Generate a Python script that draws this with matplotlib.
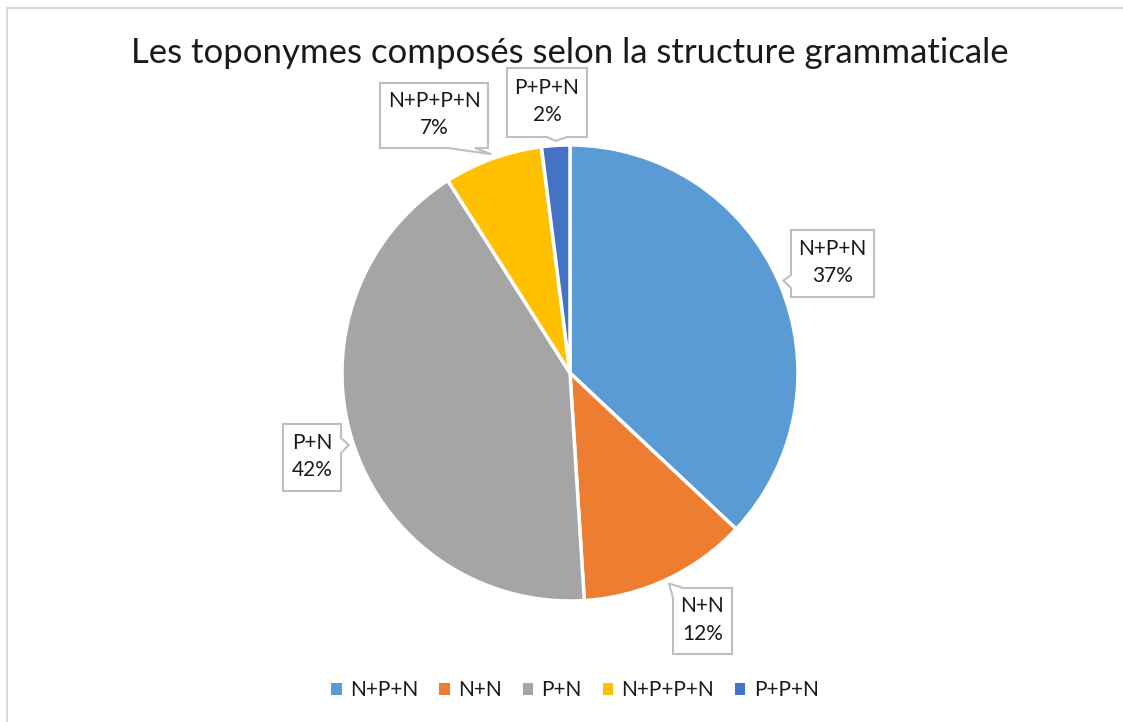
import numpy as np
import matplotlib.pyplot as plt
from matplotlib.patches import Polygon, Patch

plt.rcParams['font.family'] = ['Lato', 'DejaVu Sans']

title = 'Les toponymes composés selon la structure grammaticale'
labels = ['N+P+N', 'N+N', 'P+N', 'N+P+P+N', 'P+P+N']
values = [37, 12, 42, 7, 2]
colors = ['#5B9BD5', '#ED7D31', '#A5A5A5', '#FFC000', '#4472C4']

W, H = 1123, 722
fig = plt.figure(figsize=(W / 100, H / 100), dpi=100)
ax = fig.add_axes([0, 0, 1, 1])

# pie centre / radius in pixels (y up)
cx, cy, r = 570, H - 373, 228
wedges, _ = ax.pie(values, colors=colors, startangle=90, counterclock=False,
                   center=(cx, cy), radius=r,
                   wedgeprops=dict(edgecolor='white', linewidth=2.5))
ax.set_xlim(0, W)
ax.set_ylim(0, H)
ax.set_aspect('auto')
ax.axis('off')

# chart border (only top / left visible in the crop)
ax.plot([6.5, 6.5, W], [0, H - 7.5, H - 7.5], color='#D9D9D9', lw=1.5)

fig.text(570 / W, 1 - 53 / H, title, ha='center', va='center', fontsize=25,
         color='#1a1a1a')

# callout boxes: (left, top, right, bottom) in screen pixels, side of the notch
boxes = [(791, 230, 874, 297, 'left'),
         (673, 588, 732, 654, 'topleft'),
         (283, 424, 341, 491, 'right'),
         (380, 83, 488, 148, 'bottomright'),
         (507, 68, 587, 137, 'bottom')]

for w, lab, val, (x0, y0, x1, y1, side) in zip(wedges, labels, values, boxes):
    mid = np.deg2rad((w.theta1 + w.theta2) / 2)
    tx = cx + 1.02 * r * np.cos(mid)
    ty = cy + 1.02 * r * np.sin(mid)
    Y0, Y1 = H - y0, H - y1
    if side == 'left':
        pts = [(x0, Y0), (x1, Y0), (x1, Y1), (x0, Y1), (x0, Y1 + 9), (tx, ty), (x0, Y1 + 22)]
    elif side == 'right':
        pts = [(x0, Y0), (x1, Y0), (x1, Y0 - 14), (tx, ty), (x1, Y0 - 29), (x1, Y1), (x0, Y1)]
    elif side == 'bottom':
        pts = [(x0, Y0), (x1, Y0), (x1, Y1), (x0 + 60, Y1), (tx, ty), (x0 + 40, Y1), (x0, Y1)]
    elif side == 'bottomright':
        pts = [(x0, Y0), (x1, Y0), (x1, Y1), (x1 - 13, Y1), (tx, ty), (x1 - 40, Y1), (x0, Y1)]
    else:  # topleft
        pts = [(x0, Y0 - 10), (tx, ty), (x0 + 10, Y0), (x1, Y0), (x1, Y1), (x0, Y1)]
    ax.add_patch(Polygon(pts, closed=True, facecolor='white', edgecolor='#BFBFBF',
                         lw=1.5, zorder=5))
    ax.text((x0 + x1) / 2, H - (y0 + y1) / 2 + 1, '%s\n%d%%' % (lab, val),
            ha='center', va='center', fontsize=15, linespacing=1.45, color='#1a1a1a',
            zorder=6)

handles = [Patch(facecolor=c, edgecolor='none') for c in colors]
fig.legend(handles, labels, loc='center', bbox_to_anchor=(575 / W, 1 - 690 / H), ncol=5,
           frameon=False, fontsize=15, handlelength=0.5, handleheight=0.5,
           handletextpad=0.4, columnspacing=1.0, labelcolor='#1a1a1a')

fig.savefig('out.png', dpi=100)
